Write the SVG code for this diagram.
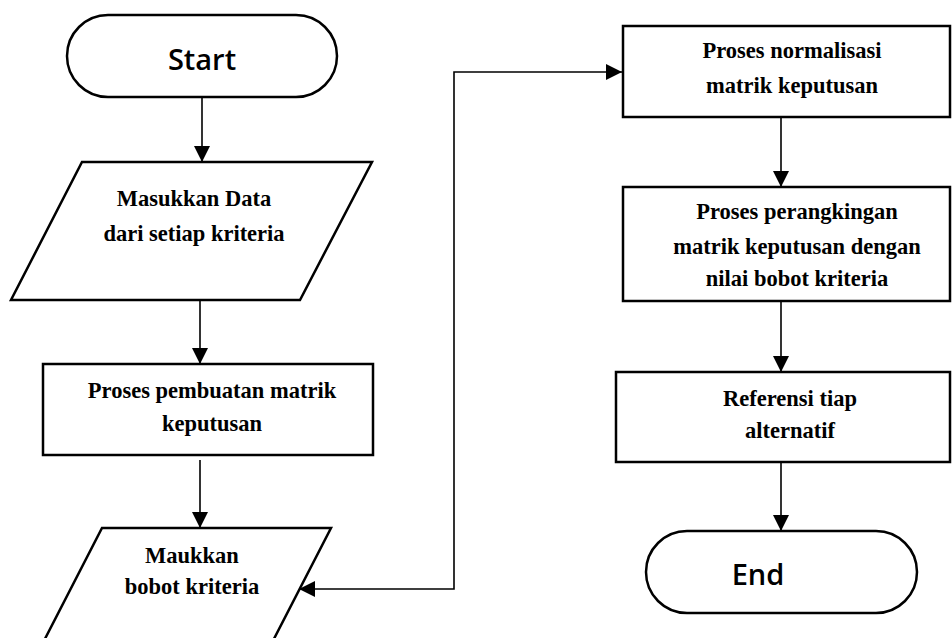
<svg xmlns="http://www.w3.org/2000/svg" width="952" height="638" viewBox="0 0 952 638">
<defs>
<style>
.shape{fill:#fff;stroke:#000;stroke-width:2.5}
.t{font-family:"Liberation Serif","Times New Roman",serif;font-weight:bold;font-size:22.5px;fill:#000;text-anchor:middle}
.term{font-family:"Open Sans","Noto Sans",sans-serif;font-weight:600;font-size:29px;fill:#000;text-anchor:middle}
.conn{fill:none;stroke:#000;stroke-width:1.6}
</style>
<marker id="ah" viewBox="0 0 10 10" refX="10" refY="5" markerWidth="16" markerHeight="16" markerUnits="userSpaceOnUse" orient="auto-start-reverse">
<path d="M0,0 L10,5 L0,10 z" fill="#000"/>
</marker>
</defs>
<rect width="952" height="638" fill="#fff"/>
<g id="connectors">
<line class="conn" x1="202" y1="97" x2="202" y2="162" marker-end="url(#ah)"/>
<line class="conn" x1="200" y1="300" x2="200" y2="364" marker-end="url(#ah)"/>
<line class="conn" x1="200" y1="460" x2="200" y2="528" marker-end="url(#ah)"/>
<polyline class="conn" points="299,589 454,589 454,72 622,72" marker-start="url(#ah)" marker-end="url(#ah)"/>
<line class="conn" x1="781" y1="117" x2="781" y2="187" marker-end="url(#ah)"/>
<line class="conn" x1="781" y1="301" x2="781" y2="372" marker-end="url(#ah)"/>
<line class="conn" x1="781" y1="462" x2="781" y2="531" marker-end="url(#ah)"/>
</g>
<g id="start">
<rect class="shape" x="67" y="15" width="270" height="82" rx="41" ry="41"/>
<text class="term" x="202" y="70">Start</text>
</g>
<g id="input-data">
<polygon class="shape" points="82,162 372,162 300,300 11,300"/>
<text class="t" x="194" y="206">Masukkan Data</text>
<text class="t" x="194" y="241">dari setiap kriteria</text>
</g>
<g id="matrik">
<rect class="shape" x="43" y="364" width="330" height="91"/>
<text class="t" x="212" y="398">Proses pembuatan matrik</text>
<text class="t" x="212" y="431">keputusan</text>
</g>
<g id="input-bobot">
<polygon class="shape" points="102,528 331,528 260,666 31,666"/>
<text class="t" x="192" y="563">Maukkan</text>
<text class="t" x="192" y="594">bobot kriteria</text>
</g>
<g id="normalisasi">
<rect class="shape" x="623" y="26" width="327" height="91"/>
<text class="t" x="792" y="58">Proses normalisasi</text>
<text class="t" x="792" y="93">matrik keputusan</text>
</g>
<g id="perangkingan">
<rect class="shape" x="623" y="187" width="327" height="114"/>
<text class="t" x="797" y="219">Proses perangkingan</text>
<text class="t" x="797" y="254">matrik keputusan dengan</text>
<text class="t" x="797" y="286">nilai bobot kriteria</text>
</g>
<g id="referensi">
<rect class="shape" x="616" y="372" width="334" height="90"/>
<text class="t" x="790" y="406">Referensi tiap</text>
<text class="t" x="790" y="438">alternatif</text>
</g>
<g id="end">
<rect class="shape" x="646" y="531" width="271" height="82" rx="41" ry="41"/>
<text class="term" x="758" y="585">End</text>
</g>
</svg>
